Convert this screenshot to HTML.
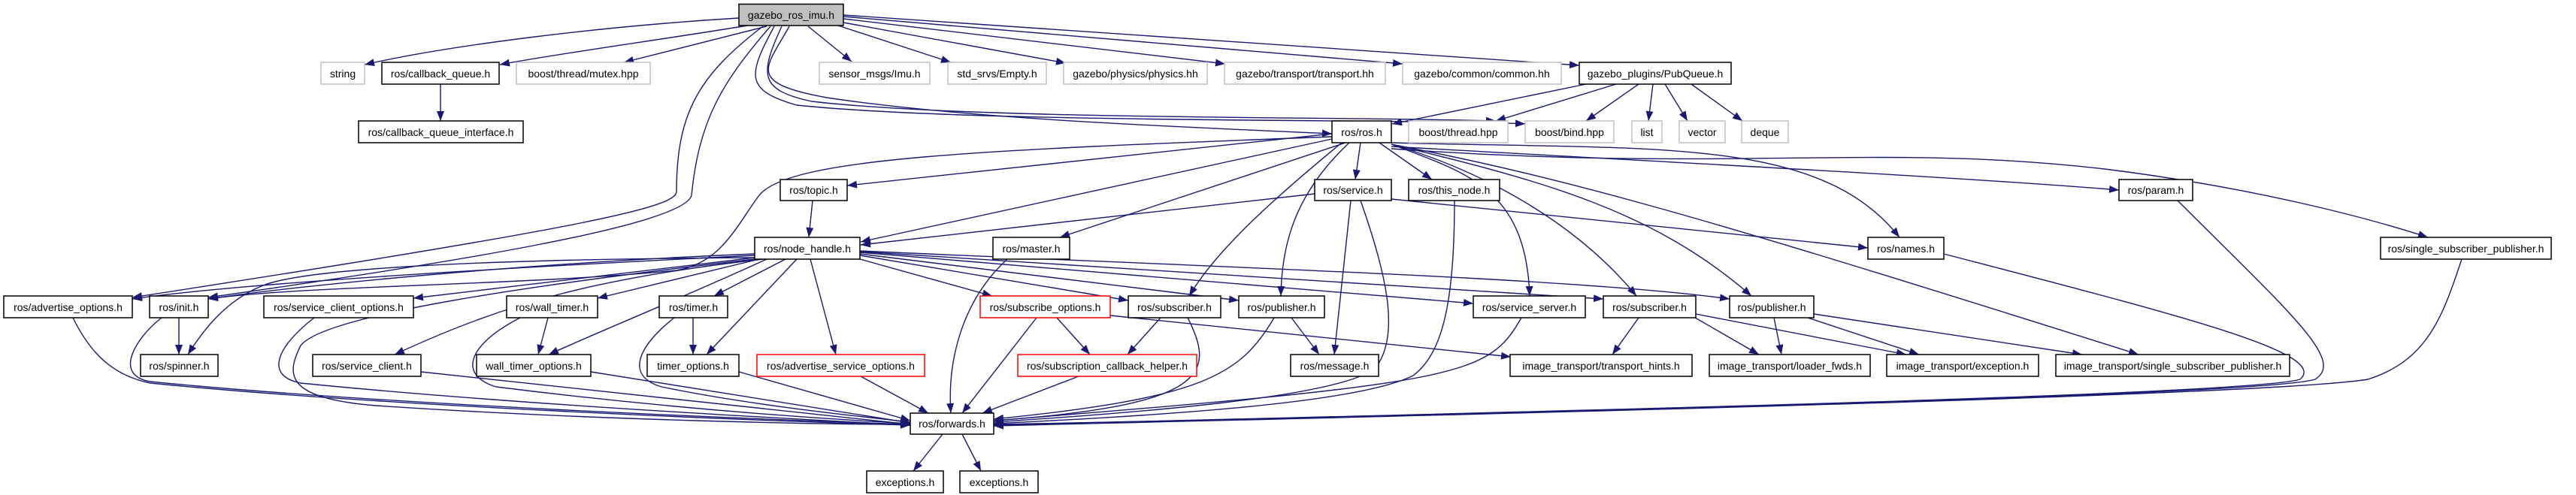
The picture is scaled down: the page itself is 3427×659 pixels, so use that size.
<!DOCTYPE html>
<html><head><meta charset="utf-8"><style>
html,body{margin:0;padding:0;background:#fff;}
svg{display:block}
text{font-family:"Liberation Sans",sans-serif;font-size:14px;fill:#000;}
.e{fill:none;stroke:#191970;stroke-width:1.4;marker-end:url(#a);}
</style></head><body>
<svg width="3427" height="659" viewBox="0 0 3427 659" xmlns="http://www.w3.org/2000/svg">
<defs><marker id="a" markerUnits="userSpaceOnUse" markerWidth="14" markerHeight="12" refX="13" refY="5" orient="auto"><path d="M0,0 L13,5 L0,10 z" fill="#191970"/></marker></defs>
<g>
<!-- imu edges -->
<path class="e" d="M983,24 C800,35 600,60 485,86"/>
<path class="e" d="M1000,33 C900,50 750,70 665,86"/>
<path class="e" d="M1020,35 L830,83"/>
<path class="e" d="M1075,35 L1133,82"/>
<path class="e" d="M1115,34 L1265,83"/>
<path class="e" d="M1122,30 L1418,84"/>
<path class="e" d="M1122,25 L1630,85"/>
<path class="e" d="M1122,22 L1866,85"/>
<path class="e" d="M1122,20 L2101,87"/>
<path class="e" d="M1050,35 C1020,90 990,110 1100,130 C1300,160 1600,170 1772,178"/>
<path class="e" d="M1040,35 C1010,100 1010,120 1080,135 C1300,160 1800,155 1990,161"/>
<path class="e" d="M1030,35 C995,100 990,120 1060,140 C1300,165 1900,158 2029,165"/>
<path class="e" d="M1015,35 C930,100 900,150 900,255 C900,275 800,300 176,396"/>
<path class="e" d="M1025,35 C960,110 930,160 920,260 C910,300 600,350 277,396"/>
<!-- callback -->
<path class="e" d="M586,112 L586,161"/>
<!-- pubqueue -->
<path class="e" d="M2110,112 L1852,165"/>
<path class="e" d="M2150,112 L1990,161"/>
<path class="e" d="M2180,112 L2110,161"/>
<path class="e" d="M2199,112 L2193,161"/>
<path class="e" d="M2215,112 L2245,161"/>
<path class="e" d="M2250,112 L2318,161"/>
<!-- ros.h -->
<path class="e" d="M1772,178 L1127,247"/>
<path class="e" d="M1772,185 L1145,322"/>
<path class="e" d="M1790,190 L1410,316"/>
<path class="e" d="M1772,182 C1300,200 1050,210 1010,260 C980,300 960,350 900,360 C700,380 400,380 277,398"/>
<path class="e" d="M1810,190 L1803,239"/>
<path class="e" d="M1835,190 L1905,239"/>
<path class="e" d="M1785,190 C1700,260 1620,330 1582,394"/>
<path class="e" d="M1795,190 C1720,260 1705,330 1704,394"/>
<path class="e" d="M1851,192 C1950,230 2030,250 2035,394"/>
<path class="e" d="M1851,192 C1980,230 2100,300 2177,394"/>
<path class="e" d="M1851,192 C2050,240 2200,280 2330,394"/>
<path class="e" d="M1851,190 C2200,200 2420,180 2527,316"/>
<path class="e" d="M1851,195 C2200,215 2600,235 2819,253"/>
<path class="e" d="M1851,198 C2300,230 2500,190 2800,225 C3000,250 3150,290 3230,316"/>
<path class="e" d="M1851,192 C2100,240 2300,300 2845,472"/>
<!-- service.h etc -->
<path class="e" d="M1749,258 L1145,326"/>
<path class="e" d="M1851,265 L2485,330"/>
<path class="e" d="M1797,267 L1775,472"/>
<path class="e" d="M1810,267 C1850,380 1860,450 1830,490 C1780,530 1500,550 1322,562"/>
<path class="e" d="M1935,267 C1935,400 1920,470 1880,500 C1800,540 1500,555 1322,564"/>
<path class="e" d="M2897,267 C3050,420 3120,480 3080,505 C3000,530 1600,560 1322,565"/>
<path class="e" d="M2586,338 C2900,420 3100,470 3060,505 C2980,530 1600,558 1322,566"/>
<path class="e" d="M3275,345 C3250,420 3230,480 3150,505 C3000,530 1600,560 1322,567"/>
<path class="e" d="M1081,267 L1076,316"/>
<path class="e" d="M1340,345 C1280,400 1260,480 1265,550"/>
<!-- node_handle -->
<path class="e" d="M1004,340 C600,360 300,380 176,398"/>
<path class="e" d="M1004,338 C700,350 400,380 277,398"/>
<path class="e" d="M1010,343 C600,345 400,360 350,380 C300,400 270,440 250,472"/>
<path class="e" d="M1004,343 L550,397"/>
<path class="e" d="M1015,345 C800,370 680,400 525,472"/>
<path class="e" d="M1010,345 L795,397"/>
<path class="e" d="M1020,345 C900,400 800,440 730,472"/>
<path class="e" d="M1045,345 L950,394"/>
<path class="e" d="M1060,345 L940,472"/>
<path class="e" d="M1078,345 L1112,472"/>
<path class="e" d="M1004,345 C700,380 430,420 400,460 C380,500 380,530 500,540 C800,560 1100,565 1211,565"/>
<path class="e" d="M1144,345 L1320,394"/>
<path class="e" d="M1144,340 L1501,400"/>
<path class="e" d="M1144,338 L1648,400"/>
<path class="e" d="M1144,336 L1960,404"/>
<path class="e" d="M1144,335 L2133,398"/>
<path class="e" d="M1144,334 C1600,355 2100,370 2301,398"/>
<!-- row5 -->
<path class="e" d="M97,423 C120,470 150,500 200,510 C500,540 1000,560 1211,566"/>
<path class="e" d="M238,423 L238,472"/>
<path class="e" d="M215,423 C180,450 150,500 200,508 C500,538 1000,558 1211,565"/>
<path class="e" d="M418,423 C370,460 350,500 400,510 C700,540 1100,560 1211,566"/>
<path class="e" d="M729,423 L716,472"/>
<path class="e" d="M692,423 C620,460 610,500 660,515 C900,545 1100,558 1211,564"/>
<path class="e" d="M922,423 L922,472"/>
<path class="e" d="M897,423 C850,460 830,500 880,515 C1000,540 1150,555 1211,562"/>
<path class="e" d="M560,495 L1211,565"/>
<path class="e" d="M786,495 L1211,563"/>
<path class="e" d="M983,495 L1211,560"/>
<path class="e" d="M1145,501 L1235,550"/>
<path class="e" d="M1379,423 L1280,550"/>
<path class="e" d="M1406,423 L1450,472"/>
<path class="e" d="M1477,420 L2010,475"/>
<path class="e" d="M1544,423 L1500,472"/>
<path class="e" d="M1580,423 C1620,500 1600,540 1322,560"/>
<path class="e" d="M1718,423 L1755,472"/>
<path class="e" d="M1695,423 C1650,500 1600,530 1322,558"/>
<path class="e" d="M1435,501 L1307,550"/>
<path class="e" d="M2024,423 C1980,500 1950,510 1322,560"/>
<path class="e" d="M2180,423 L2145,472"/>
<path class="e" d="M2250,420 L2340,472"/>
<path class="e" d="M2256,418 L2536,472"/>
<path class="e" d="M2360,423 L2370,472"/>
<path class="e" d="M2405,423 L2553,472"/>
<path class="e" d="M2413,418 L2770,472"/>
<path class="e" d="M1254,578 L1215,627"/>
<path class="e" d="M1280,578 L1305,627"/>
</g>
<g stroke-width="1.5">
<rect x="983" y="5.5" width="139" height="28.5" fill="#bfbfbf" stroke="#000"/>
<text x="1052.5" y="25" text-anchor="middle">gazebo_ros_imu.h</text>
</g>
<g fill="#fff" stroke="#bfbfbf" stroke-width="1.5">
<rect x="427" y="83" width="58" height="29"/>
<rect x="687" y="83" width="178" height="29"/>
<rect x="1090" y="83" width="147" height="29"/>
<rect x="1261" y="83" width="131" height="29"/>
<rect x="1415" y="83" width="191" height="29"/>
<rect x="1629" y="83" width="214" height="29"/>
<rect x="1866" y="83" width="211" height="29"/>
<rect x="1874" y="161" width="132" height="29"/>
<rect x="2029" y="161" width="118" height="29"/>
<rect x="2171" y="161" width="40" height="29"/>
<rect x="2234" y="161" width="61" height="29"/>
<rect x="2317" y="161" width="62" height="29"/>
</g>
<g fill="#fff" stroke="#ff0000" stroke-width="1.5">
<rect x="1007" y="472" width="223" height="29"/>
<rect x="1304" y="394" width="173" height="29"/>
<rect x="1354" y="472" width="238" height="29"/>
</g>
<g fill="#fff" stroke="#000" stroke-width="1.5">
<rect x="508" y="83" width="156" height="29"/>
<rect x="2101" y="83" width="202" height="29"/>
<rect x="477" y="161" width="219" height="29"/>
<rect x="1772" y="161" width="79" height="29"/>
<rect x="1038" y="239" width="89" height="28"/>
<rect x="1749" y="239" width="102" height="28"/>
<rect x="1874" y="239" width="121" height="28"/>
<rect x="2819" y="239" width="98" height="28"/>
<rect x="1004" y="316" width="140" height="29"/>
<rect x="1321" y="316" width="102" height="29"/>
<rect x="2485" y="316" width="101" height="29"/>
<rect x="3167" y="316" width="227" height="29"/>
<rect x="5" y="394" width="171" height="29"/>
<rect x="199" y="394" width="78" height="29"/>
<rect x="351" y="394" width="199" height="29"/>
<rect x="674" y="394" width="121" height="29"/>
<rect x="877" y="394" width="91" height="29"/>
<rect x="1501" y="394" width="123" height="29"/>
<rect x="1648" y="394" width="114" height="29"/>
<rect x="1960" y="394" width="149" height="29"/>
<rect x="2133" y="394" width="123" height="29"/>
<rect x="2301" y="394" width="112" height="29"/>
<rect x="187" y="472" width="103" height="29"/>
<rect x="416" y="472" width="144" height="29"/>
<rect x="634" y="472" width="152" height="29"/>
<rect x="861" y="472" width="122" height="29"/>
<rect x="1717" y="472" width="117" height="29"/>
<rect x="2009" y="472" width="242" height="29"/>
<rect x="2274" y="472" width="214" height="29"/>
<rect x="2510" y="472" width="202" height="29"/>
<rect x="2735" y="472" width="311" height="29"/>
<rect x="1211" y="550" width="111" height="28"/>
<rect x="1153" y="627" width="102" height="29"/>
<rect x="1277" y="627" width="104" height="29"/>
</g>
<g text-anchor="middle">
<text x="456" y="103">string</text>
<text x="586" y="103">ros/callback_queue.h</text>
<text x="776" y="103">boost/thread/mutex.hpp</text>
<text x="1163.5" y="103">sensor_msgs/Imu.h</text>
<text x="1326.5" y="103">std_srvs/Empty.h</text>
<text x="1510.5" y="103">gazebo/physics/physics.hh</text>
<text x="1736" y="103">gazebo/transport/transport.hh</text>
<text x="1971.5" y="103">gazebo/common/common.hh</text>
<text x="2202" y="103">gazebo_plugins/PubQueue.h</text>
<text x="586.5" y="181">ros/callback_queue_interface.h</text>
<text x="1811.5" y="181">ros/ros.h</text>
<text x="1940" y="181">boost/thread.hpp</text>
<text x="2088" y="181">boost/bind.hpp</text>
<text x="2191" y="181">list</text>
<text x="2264.5" y="181">vector</text>
<text x="2348" y="181">deque</text>
<text x="1082.5" y="258">ros/topic.h</text>
<text x="1800" y="258">ros/service.h</text>
<text x="1934.5" y="258">ros/this_node.h</text>
<text x="2868" y="258">ros/param.h</text>
<text x="1074" y="336">ros/node_handle.h</text>
<text x="1372" y="336">ros/master.h</text>
<text x="2535.5" y="336">ros/names.h</text>
<text x="3280.5" y="336">ros/single_subscriber_publisher.h</text>
<text x="90.5" y="414">ros/advertise_options.h</text>
<text x="238" y="414">ros/init.h</text>
<text x="450.5" y="414">ros/service_client_options.h</text>
<text x="734.5" y="414">ros/wall_timer.h</text>
<text x="922.5" y="414">ros/timer.h</text>
<text x="1390.5" y="414">ros/subscribe_options.h</text>
<text x="1562.5" y="414">ros/subscriber.h</text>
<text x="1705" y="414">ros/publisher.h</text>
<text x="2034.5" y="414">ros/service_server.h</text>
<text x="2194.5" y="414">ros/subscriber.h</text>
<text x="2357" y="414">ros/publisher.h</text>
<text x="238.5" y="492">ros/spinner.h</text>
<text x="488" y="492">ros/service_client.h</text>
<text x="710" y="492">wall_timer_options.h</text>
<text x="922" y="492">timer_options.h</text>
<text x="1118.5" y="492">ros/advertise_service_options.h</text>
<text x="1473" y="492">ros/subscription_callback_helper.h</text>
<text x="1775.5" y="492">ros/message.h</text>
<text x="2130" y="492">image_transport/transport_hints.h</text>
<text x="2381" y="492">image_transport/loader_fwds.h</text>
<text x="2611" y="492">image_transport/exception.h</text>
<text x="2890.5" y="492">image_transport/single_subscriber_publisher.h</text>
<text x="1266.5" y="569">ros/forwards.h</text>
<text x="1204" y="647">exceptions.h</text>
<text x="1329" y="647">exceptions.h</text>
</g>
</svg>
</body></html>
